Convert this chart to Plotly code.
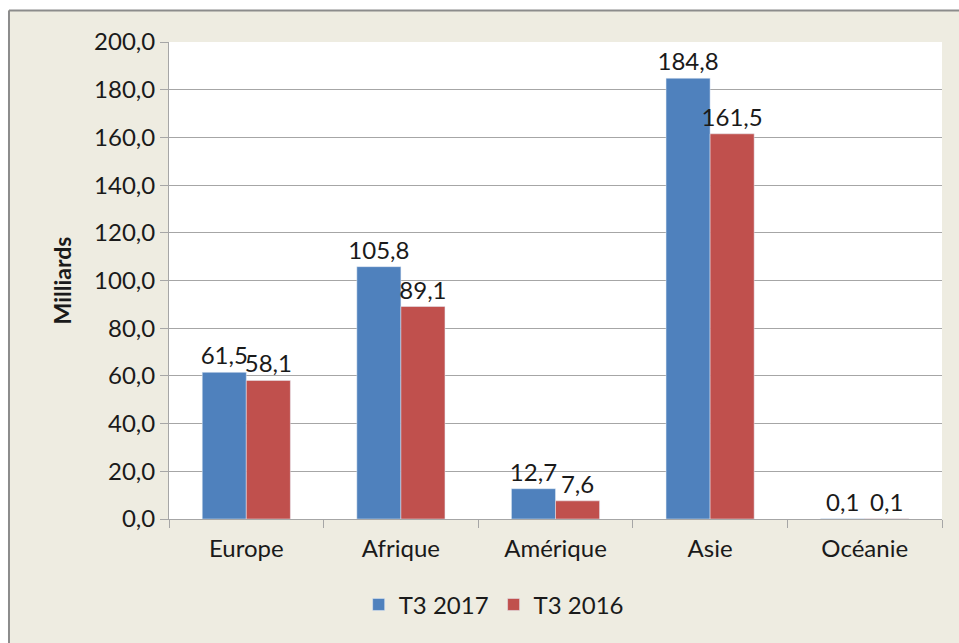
import plotly.graph_objects as go

regions = ["Europe", "Afrique", "Amérique", "Asie", "Océanie"]
t3_2017 = [61.5, 105.8, 12.7, 184.8, 0.1]
t3_2016 = [58.1, 89.1, 7.6, 161.5, 0.1]

font_family = "Lato, 'Noto Sans', sans-serif"
txt_col = "#1a1a1a"

fig = go.Figure()
fig.add_trace(go.Bar(
    x=regions, y=t3_2017, name="T3 2017",
    marker_color="#4F81BD",
    texttemplate="%{y:.1f}", textposition="outside", constraintext="none",
    textfont=dict(size=24, color=txt_col), cliponaxis=False,
))
fig.add_trace(go.Bar(
    x=regions, y=t3_2016, name="T3 2016",
    marker_color="#C0504D",
    texttemplate="%{y:.1f}", textposition="outside", constraintext="none",
    textfont=dict(size=24, color=txt_col), cliponaxis=False,
))

fig.update_layout(
    width=959, height=643,
    separators=", ",
    font=dict(family=font_family, size=24, color=txt_col),
    paper_bgcolor="#EEECE1",
    plot_bgcolor="#FFFFFF",
    margin=dict(l=169, r=17, t=42, b=124),
    barmode="group", bargap=0.43, bargroupgap=0,
    showlegend=True,
    legend=dict(orientation="h", x=0.42, xanchor="center", y=-0.18, yanchor="middle",
                font=dict(size=24), bgcolor="rgba(0,0,0,0)",
                traceorder="normal"),
)

fig.update_yaxes(
    range=[0, 200], dtick=20, tickformat=".1f",
    showgrid=True, gridcolor="#A6A6A6", gridwidth=1,
    showline=True, linecolor="#A6A6A6", linewidth=1,
    ticks="outside", ticklen=8, tickcolor="#A6A6A6",
    tickfont=dict(size=24),
    zeroline=False,
    title=dict(text="<b>Milliards</b>", font=dict(size=23), standoff=16),
)
fig.update_xaxes(
    showline=True, linecolor="#A6A6A6", linewidth=1,
    ticks="outside", ticklen=8, tickcolor="#A6A6A6", tickson="boundaries",
    tickfont=dict(size=24), ticklabelstandoff=8,
)

# white strip above and left of the chart frame, grey frame edges
fig.add_shape(type="rect", xref="paper", yref="paper", x0=-0.3, x1=1.1, y0=1.0671, y1=1.2,
              fillcolor="white", line_width=0, layer="above")
fig.add_shape(type="rect", xref="paper", yref="paper", x0=-0.3, x1=-0.2083, y0=-0.4, y1=1.2,
              fillcolor="white", line_width=0, layer="above")
fig.add_shape(type="line", xref="paper", yref="paper", x0=-0.207, x1=1.1, y0=1.066, y1=1.066,
              line=dict(color="#8C8C8C", width=2), layer="above")
fig.add_shape(type="line", xref="paper", yref="paper", x0=-0.207, x1=-0.207, y0=-0.4, y1=1.066,
              line=dict(color="#8C8C8C", width=2), layer="above")

fig.write_html("out.html", config={"displayModeBar": False},
               post_script="document.body.style.margin='0';document.body.style.overflow='hidden';")
